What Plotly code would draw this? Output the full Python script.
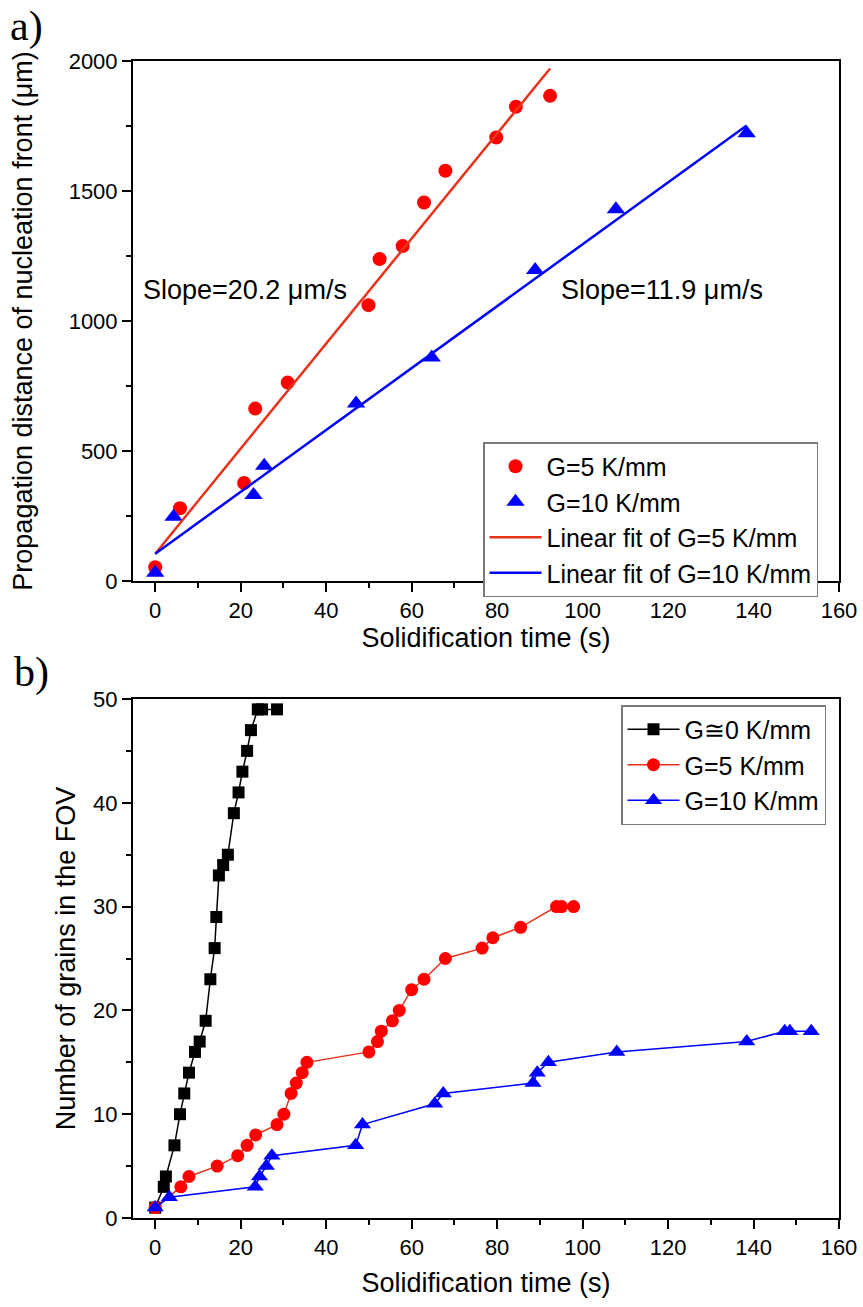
import plotly.graph_objects as go

# ---- Panel a: propagation distance of the nucleation front ----
a_time_g5 = [0, 5.8, 20.8, 23.4, 31.0, 49.9, 52.5, 57.9, 62.9, 67.9, 79.8, 84.4, 92.4]
a_dist_g5 = [53, 280, 377, 663, 763, 1061, 1238, 1288, 1456, 1578, 1706, 1824, 1866]
a_time_g10 = [0, 4.3, 23.0, 25.5, 47.0, 64.7, 88.9, 107.8, 138.4]
a_dist_g10 = [32, 247, 331, 443, 683, 860, 1196, 1430, 1722]

fit_slope_g5 = 20.2
fit_icpt_g5 = 105
fit_slope_g10 = 11.9
fit_icpt_g10 = 105

# ---- Panel b: number of grains in the field of view ----
b_time_g0 = [0, 2.0, 2.5, 4.5, 5.8, 6.8, 7.9, 9.3, 10.4, 11.8, 12.9, 13.9, 14.3, 14.9,
             15.9, 17.0, 18.4, 19.5, 20.4, 21.5, 22.4, 24.0, 25.0, 28.5]
b_grains_g0 = [1, 3, 4, 7, 10, 12, 14, 16, 17, 19, 23, 26, 29, 33,
               34, 35, 39, 41, 43, 45, 47, 49, 49, 49]
b_time_g5 = [0, 6.0, 7.9, 14.5, 19.3, 21.5, 23.5, 28.5, 30.1, 31.8, 33.0, 34.4, 35.5,
             50.0, 52.0, 52.9, 55.5, 57.1, 60.0, 62.9, 67.9, 76.5, 79.0, 85.5, 93.9, 95.1, 97.9]
b_grains_g5 = [1, 3, 4, 5, 6, 7, 8, 9, 10, 12, 13, 14, 15,
               16, 17, 18, 19, 20, 22, 23, 25, 26, 27, 28, 30, 30, 30]
b_time_g10 = [0, 3.3, 23.4, 24.4, 26.0, 27.3, 46.9, 48.5, 65.4, 67.4, 88.4, 89.4, 92.0,
              108.0, 138.4, 147.3, 148.5, 153.5]
b_grains_g10 = [1, 2, 3, 4, 5, 6, 7, 9, 11, 12, 13, 14, 15, 16, 17, 18, 18, 18]

x_ticks = [0, 20, 40, 60, 80, 100, 120, 140, 160]

RED = "#ff0000"
RED_LINE = "#e8321c"
BLUE = "#0000ff"
FONT = "Liberation Sans"

fig = go.Figure()

# panel a: measurements
fig.add_trace(go.Scatter(x=a_time_g5, y=a_dist_g5, mode="markers", name="G=5 K/mm",
                         marker=dict(symbol="circle", size=14, color=RED),
                         xaxis="x", yaxis="y", legend="legend", cliponaxis=False))
fig.add_trace(go.Scatter(x=a_time_g10, y=a_dist_g10, mode="markers", name="G=10 K/mm",
                         marker=dict(symbol="triangle-up", size=16, color=BLUE),
                         xaxis="x", yaxis="y", legend="legend", cliponaxis=False))

# panel a: linear fits over each data range
fx5 = [min(a_time_g5), max(a_time_g5)]
fy5 = [fit_icpt_g5 + fit_slope_g5 * t for t in fx5]
fx10 = [min(a_time_g10), max(a_time_g10)]
fy10 = [fit_icpt_g10 + fit_slope_g10 * t for t in fx10]
fig.add_trace(go.Scatter(x=fx5, y=fy5, mode="lines", name="Linear fit of G=5 K/mm",
                         line=dict(color=RED_LINE, width=2.5),
                         xaxis="x", yaxis="y", legend="legend"))
fig.add_trace(go.Scatter(x=fx10, y=fy10, mode="lines", name="Linear fit of G=10 K/mm",
                         line=dict(color=BLUE, width=2.5),
                         xaxis="x", yaxis="y", legend="legend"))

# panel b: grain counts
fig.add_trace(go.Scatter(x=b_time_g0, y=b_grains_g0, mode="lines+markers", name="G≅0 K/mm",
                         line=dict(color="black", width=1.5),
                         marker=dict(symbol="square", size=12, color="black"),
                         xaxis="x2", yaxis="y2", legend="legend2", cliponaxis=False))
fig.add_trace(go.Scatter(x=b_time_g5, y=b_grains_g5, mode="lines+markers", name="G=5 K/mm",
                         line=dict(color=RED_LINE, width=1.5),
                         marker=dict(symbol="circle", size=13, color=RED),
                         xaxis="x2", yaxis="y2", legend="legend2", cliponaxis=False))
fig.add_trace(go.Scatter(x=b_time_g10, y=b_grains_g10, mode="lines+markers", name="G=10 K/mm",
                         line=dict(color=BLUE, width=1.5),
                         marker=dict(symbol="triangle-up", size=15, color=BLUE),
                         xaxis="x2", yaxis="y2", legend="legend2", cliponaxis=False))

W, H = 863, 1307
x_dom = [133 / W, 839 / W]
ya_dom = [1 - 581 / H, 1 - 61 / H]
yb_dom = [1 - 1218 / H, 1 - 699 / H]


def axis_style(**kw):
    d = dict(showline=True, linecolor="black", linewidth=2, mirror=True,
             ticks="outside", ticklen=9, tickwidth=2, tickcolor="black",
             showgrid=False, zeroline=False, automargin=False,
             tickfont=dict(family=FONT, size=22, color="black"),
             title_font=dict(family=FONT, size=27, color="black"))
    d.update(kw)
    return d


fig.update_layout(
    width=W, height=H,
    margin=dict(l=0, r=0, t=0, b=0, autoexpand=False),
    paper_bgcolor="white", plot_bgcolor="white",
    font=dict(family=FONT, color="black"),
    xaxis=axis_style(domain=x_dom, anchor="y", range=[-5.2, 160], tickvals=x_ticks,
                     minor=dict(ticks="outside", ticklen=5, tickwidth=2, dtick=10, tick0=0),
                     title=dict(text="Solidification time (s)", standoff=3)),
    yaxis=axis_style(domain=ya_dom, anchor="x", range=[0, 2000], dtick=500,
                     minor=dict(ticks="outside", ticklen=5, tickwidth=2, dtick=250, tick0=0),
                     title=dict(text="Propagation distance of nucleation front (μm)", standoff=28)),
    xaxis2=axis_style(domain=x_dom, anchor="y2", range=[-5.2, 160], tickvals=x_ticks,
                      minor=dict(ticks="outside", ticklen=5, tickwidth=2, dtick=10, tick0=0),
                      title=dict(text="Solidification time (s)", standoff=14)),
    yaxis2=axis_style(domain=yb_dom, anchor="x2", range=[0, 50], dtick=10,
                      minor=dict(ticks="outside", ticklen=5, tickwidth=2, dtick=5, tick0=0),
                      title=dict(text="Number of grains in the FOV", standoff=10)),
    legend=dict(x=483 / W, y=1 - 442 / H, xanchor="left", yanchor="top",
                bgcolor="white", bordercolor="#7a7a7a", borderwidth=1.5,
                font=dict(family=FONT, size=25, color="black"), itemwidth=52),
    legend2=dict(x=826 / W, y=1 - 705 / H, xanchor="right", yanchor="top",
                 bgcolor="white", bordercolor="#7a7a7a", borderwidth=1.5,
                 font=dict(family=FONT, size=25, color="black"), itemwidth=52),
    annotations=[
        dict(text="Slope=20.2 μm/s", x=21, y=1119, xref="x", yref="y", showarrow=False,
             font=dict(family=FONT, size=27, color="black"), xanchor="center", yanchor="middle"),
        dict(text="Slope=11.9 μm/s", x=118.6, y=1119, xref="x", yref="y", showarrow=False,
             font=dict(family=FONT, size=27, color="black"), xanchor="center", yanchor="middle"),
        dict(text="a)", x=8 / W, y=1 - 27 / H, xref="paper", yref="paper", showarrow=False,
             font=dict(family="Liberation Serif", size=42, color="black"),
             xanchor="left", yanchor="middle"),
        dict(text="b)", x=12 / W, y=1 - 672 / H, xref="paper", yref="paper", showarrow=False,
             font=dict(family="Liberation Serif", size=42, color="black"),
             xanchor="left", yanchor="middle"),
    ],
)

fig.write_html("out.html")
